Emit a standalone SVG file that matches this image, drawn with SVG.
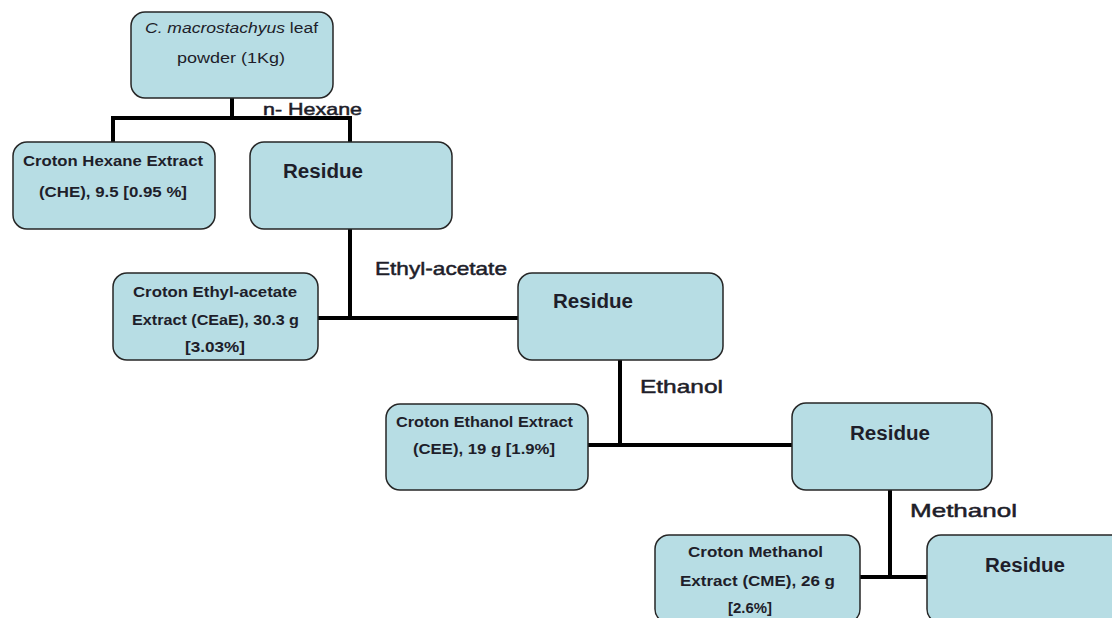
<svg xmlns="http://www.w3.org/2000/svg" width="1112" height="618" viewBox="0 0 1112 618">
<style>
.box{fill:#b7dde4;stroke:#262626;stroke-width:1.5}
.ln{stroke:#000;stroke-width:4;fill:none}
text{font-family:"Liberation Sans",Arial,sans-serif;fill:#1e1e2a}
.bt{font-size:14px;font-weight:bold}
.rt{font-size:14px}
.res{font-size:20px;font-weight:bold}
.lab{font-size:19px;stroke:#1e1e2a;stroke-width:0.5}
</style>
<rect width="1112" height="618" fill="#fff"/>
<g id="connectors">
<path class="ln" d="M232,98 V118"/>
<path class="ln" d="M113,142 V118 H350 V142"/>
<path class="ln" d="M350,229 V318"/>
<path class="ln" d="M318,318 H518"/>
<path class="ln" d="M620,360 V445"/>
<path class="ln" d="M588,445 H792"/>
<path class="ln" d="M890,490 V577"/>
<path class="ln" d="M860,577 H927"/>
</g>
<g id="labels">
<text class="lab" x="263" y="115" textLength="99" lengthAdjust="spacingAndGlyphs" style="font-size:17px">n- Hexane</text>
<text class="lab" x="375" y="275" textLength="132" lengthAdjust="spacingAndGlyphs">Ethyl-acetate</text>
<text class="lab" x="640" y="393" textLength="83" lengthAdjust="spacingAndGlyphs">Ethanol</text>
<text class="lab" x="910" y="517" textLength="107" lengthAdjust="spacingAndGlyphs">Methanol</text>
</g>
<g id="n-top">
<rect class="box" x="131" y="12" width="202" height="86" rx="14"/>
<text class="rt" x="145" y="33" textLength="173" lengthAdjust="spacingAndGlyphs"><tspan font-style="italic">C. macrostachyus</tspan> leaf</text>
<text class="rt" x="177" y="63" textLength="108" lengthAdjust="spacingAndGlyphs">powder (1Kg)</text>
</g>
<g id="n-che">
<rect class="box" x="13" y="142" width="202" height="87" rx="14"/>
<text class="bt" x="23" y="166" textLength="180" lengthAdjust="spacingAndGlyphs">Croton Hexane Extract</text>
<text class="bt" x="39" y="197" textLength="148" lengthAdjust="spacingAndGlyphs">(CHE), 9.5 [0.95 %]</text>
</g>
<g id="n-res1">
<rect class="box" x="250" y="142" width="202" height="87" rx="14"/>
<text class="res" x="283" y="178" textLength="80" lengthAdjust="spacingAndGlyphs">Residue</text>
</g>
<g id="n-ceae">
<rect class="box" x="113" y="273" width="205" height="87" rx="14"/>
<text class="bt" x="133" y="297" textLength="164" lengthAdjust="spacingAndGlyphs">Croton Ethyl-acetate</text>
<text class="bt" x="132" y="325" textLength="167" lengthAdjust="spacingAndGlyphs">Extract (CEaE), 30.3 g</text>
<text class="bt" x="185" y="352" textLength="60" lengthAdjust="spacingAndGlyphs">[3.03%]</text>
</g>
<g id="n-res2">
<rect class="box" x="518" y="273" width="205" height="87" rx="14"/>
<text class="res" x="553" y="308" textLength="80" lengthAdjust="spacingAndGlyphs">Residue</text>
</g>
<g id="n-cee">
<rect class="box" x="386" y="404" width="202" height="86" rx="14"/>
<text class="bt" x="396" y="427" textLength="177" lengthAdjust="spacingAndGlyphs">Croton Ethanol Extract</text>
<text class="bt" x="413" y="454" textLength="142" lengthAdjust="spacingAndGlyphs">(CEE), 19 g [1.9%]</text>
</g>
<g id="n-res3">
<rect class="box" x="792" y="403" width="200" height="87" rx="14"/>
<text class="res" x="850" y="440" textLength="80" lengthAdjust="spacingAndGlyphs">Residue</text>
</g>
<g id="n-cme">
<rect class="box" x="655" y="535" width="205" height="88" rx="14"/>
<text class="bt" x="688" y="557" textLength="135" lengthAdjust="spacingAndGlyphs">Croton Methanol</text>
<text class="bt" x="680" y="586" textLength="155" lengthAdjust="spacingAndGlyphs">Extract (CME), 26 g</text>
<text class="bt" x="728" y="613" textLength="44" lengthAdjust="spacingAndGlyphs">[2.6%]</text>
</g>
<g id="n-res4">
<rect class="box" x="927" y="535" width="205" height="88" rx="14"/>
<text class="res" x="985" y="572" textLength="80" lengthAdjust="spacingAndGlyphs">Residue</text>
</g>
</svg>
